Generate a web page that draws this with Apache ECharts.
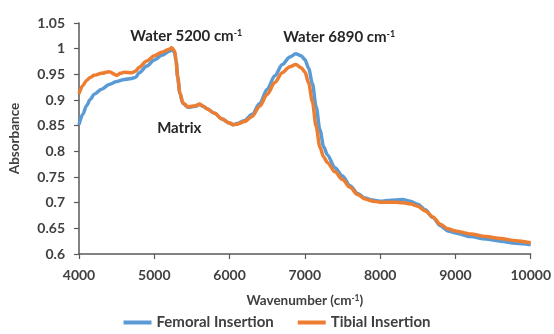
<!DOCTYPE html>
<html>
<head>
<meta charset="utf-8">
<script src="https://cdn.jsdelivr.net/npm/echarts@6/dist/echarts.min.js"></script>
<style>
html,body{margin:0;padding:0;background:#fff;}
#chart{width:554px;height:334px;}
</style>
</head>
<body>
<div id="chart"></div>
<script>
const wavenumbers = [4000,4050,4100,4150,4200,4300,4400,4500,4550,4600,4700,4750,4800,4900,5000,5100,5200,5230,5270,5290,5310,5340,5380,5450,5550,5600,5650,5700,5800,5900,6000,6050,6100,6200,6300,6400,6500,6600,6700,6800,6880,6950,7000,7050,7100,7150,7200,7250,7300,7400,7500,7600,7700,7800,7900,8000,8100,8200,8300,8400,8500,8600,8700,8800,8900,9000,9200,9400,9600,9800,10000];
const femoral = [0.852,0.872,0.889,0.901,0.911,0.921,0.930,0.936,0.938,0.940,0.942,0.944,0.953,0.966,0.978,0.987,0.995,0.998,0.993,0.975,0.945,0.913,0.893,0.886,0.888,0.891,0.888,0.883,0.874,0.863,0.855,0.852,0.854,0.860,0.872,0.893,0.921,0.947,0.969,0.984,0.990,0.986,0.979,0.962,0.932,0.887,0.842,0.809,0.793,0.768,0.752,0.733,0.718,0.709,0.705,0.703,0.704,0.705,0.706,0.703,0.697,0.686,0.671,0.655,0.645,0.641,0.634,0.629,0.625,0.621,0.618];
const tibial = [0.912,0.928,0.938,0.944,0.948,0.952,0.955,0.948,0.952,0.954,0.953,0.956,0.964,0.976,0.986,0.993,0.999,1.002,0.996,0.976,0.946,0.914,0.894,0.887,0.889,0.892,0.888,0.883,0.874,0.863,0.855,0.852,0.853,0.858,0.868,0.888,0.911,0.934,0.953,0.965,0.969,0.963,0.955,0.933,0.897,0.848,0.808,0.789,0.778,0.760,0.745,0.730,0.716,0.707,0.703,0.701,0.701,0.701,0.700,0.698,0.693,0.684,0.672,0.658,0.649,0.645,0.639,0.634,0.630,0.626,0.622];
const seriesNames = ['Femoral Insertion','Tibial Insertion'];
const xTicks = [4000,10000,1000];
const yTicks = [0.6,1.05,0.05];
const annotations = [
  {text:'Water 5200 cm', sup:'-1', at:[5425,1.025]},
  {text:'Water 6890 cm', sup:'-1', at:[7456,1.023]},
  {text:'Matrix', sup:'', at:[5332,0.845]}
];

const FONT = 'Lato';
const TXT = '#404040';
const chart = echarts.init(document.getElementById('chart'));
const toPairs = ys => wavenumbers.map((x,i)=>[x,ys[i]]);
chart.setOption({
  animation:false,
  textStyle:{fontFamily:FONT},
  grid:{left:77,right:22,top:23,bottom:80,containLabel:false},
  legend:{
    bottom:-1,left:'center',
    icon:'rect',itemWidth:28,itemHeight:4,itemGap:24,
    textStyle:{fontFamily:FONT,fontSize:15,fontWeight:'bold',color:TXT},
    data:seriesNames
  },
  xAxis:{
    type:'value',min:xTicks[0],max:xTicks[1],interval:xTicks[2],
    name:'{a|Wavenumber (cm}{s|-1}{a|)}',nameLocation:'middle',nameGap:40,
    nameTextStyle:{rich:{
      a:{fontFamily:FONT,fontSize:13.5,fontWeight:'bold',color:TXT},
      s:{fontFamily:FONT,fontSize:8.5,fontWeight:'bold',color:TXT,verticalAlign:'top'}
    }},
    axisLine:{lineStyle:{color:'#595959',width:1.5}},
    axisTick:{show:true,inside:false,length:5,lineStyle:{color:'#595959',width:1.2}},
    axisLabel:{fontFamily:FONT,fontSize:14,fontWeight:'bold',color:TXT,margin:14,
      formatter:v=>String(v)},
    splitLine:{show:false}
  },
  yAxis:{
    type:'value',min:yTicks[0],max:yTicks[1],interval:yTicks[2],
    name:'Absorbance',nameLocation:'middle',nameGap:57,nameRotate:90,
    nameTextStyle:{fontFamily:FONT,fontSize:13.5,fontWeight:'bold',color:TXT},
    axisLine:{show:true,lineStyle:{color:'#595959',width:1.5}},
    axisTick:{show:true,inside:false,length:5,lineStyle:{color:'#595959',width:1.2}},
    axisLabel:{fontFamily:FONT,fontSize:14,fontWeight:'bold',color:TXT,margin:14,
      formatter:v=>String(Math.round(v*100)/100)},
    splitLine:{show:false}
  },
  series:[
    {name:seriesNames[0],type:'line',data:toPairs(femoral),showSymbol:false,symbol:'none',
      smooth:0.3,smoothMonotone:'x',lineStyle:{color:'#5B9BD5',width:3.5},itemStyle:{color:'#5B9BD5'}},
    {name:seriesNames[1],type:'line',data:toPairs(tibial),showSymbol:false,symbol:'none',
      smooth:0.3,smoothMonotone:'x',lineStyle:{color:'#ED7D31',width:3.5},itemStyle:{color:'#ED7D31'}}
  ]
});

const graphics = annotations.map(a=>{
  const p = chart.convertToPixel({gridIndex:0},a.at);
  return {
    type:'text',x:p[0],y:p[1],
    style:{
      text:a.sup?'{a|'+a.text+'}{s|'+a.sup+'}':'{a|'+a.text+'}',
      align:'center',verticalAlign:'middle',
      rich:{
        a:{fontFamily:FONT,fontSize:15,fontWeight:'bold',fill:'#262626'},
        s:{fontFamily:FONT,fontSize:9,fontWeight:'bold',fill:'#262626',verticalAlign:'top'}
      }
    }
  };
});
chart.setOption({graphic:graphics});
</script>
</body>
</html>
